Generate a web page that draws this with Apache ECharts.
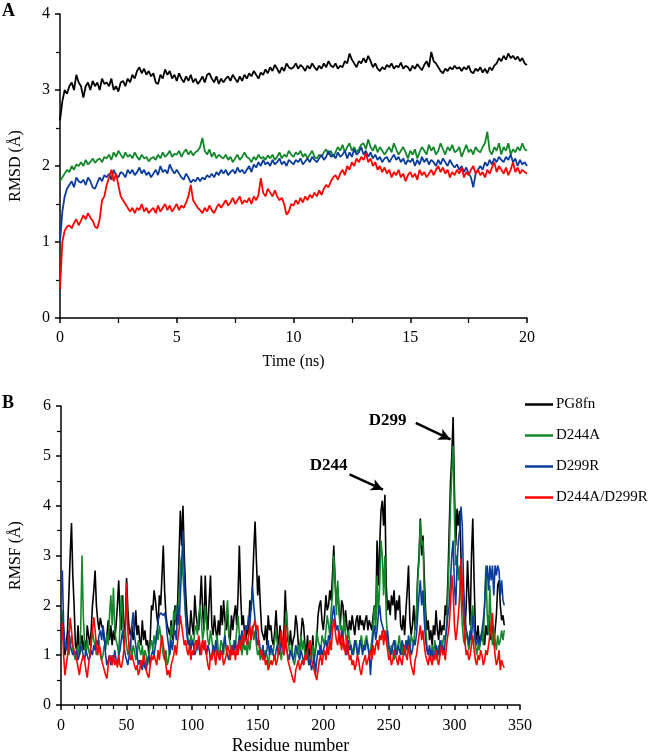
<!DOCTYPE html>
<html><head><meta charset="utf-8">
<script src="https://cdn.jsdelivr.net/npm/echarts@6/dist/echarts.min.js"></script>
<style>html,body{margin:0;padding:0;background:#fff}#c{width:650px;height:756px}</style>
</head><body><div id="c"></div>
<script>
// ---------- Panel A : RMSD vs time (ns), sampled every 0.1 ns ----------
const seriesNames = ['PG8fn','D244A','D299R','D244A/D299R'];
const seriesColors = ['#000000','#12882a','#0a3c9e','#ff0000'];

const rmsdPG8fn = [
2.6,2.85,3.0,2.95,3.05,3.1,3.0,3.2,3.1,3.05,
2.9,3.05,3.1,3.0,3.12,3.05,3.1,3.0,3.15,3.08,
3.1,3.05,3.15,3.0,3.05,2.98,3.1,3.12,3.05,3.15,
3.1,3.2,3.15,3.25,3.3,3.22,3.28,3.2,3.25,3.18,
3.22,3.1,3.08,3.2,3.15,3.27,3.2,3.25,3.15,3.2,
3.12,3.22,3.15,3.1,3.18,3.12,3.2,3.1,3.15,3.08,
3.12,3.18,3.1,3.2,3.22,3.15,3.1,3.18,3.08,3.15,
3.1,3.15,3.18,3.12,3.2,3.15,3.1,3.18,3.12,3.2,
3.15,3.22,3.18,3.25,3.2,3.15,3.23,3.2,3.27,3.22,
3.3,3.25,3.33,3.28,3.22,3.3,3.25,3.35,3.3,3.28,
3.3,3.35,3.28,3.33,3.3,3.25,3.32,3.28,3.35,3.3,
3.26,3.32,3.28,3.35,3.3,3.38,3.32,3.3,3.35,3.28,
3.32,3.3,3.38,3.35,3.48,3.4,3.35,3.3,3.38,3.35,
3.42,3.36,3.45,3.38,3.3,3.35,3.28,3.25,3.3,3.27,
3.33,3.3,3.35,3.28,3.32,3.3,3.36,3.28,3.32,3.3,
3.25,3.32,3.28,3.34,3.3,3.26,3.33,3.38,3.3,3.5,
3.38,3.35,3.3,3.25,3.22,3.28,3.25,3.3,3.27,3.32,
3.28,3.3,3.25,3.3,3.27,3.32,3.24,3.22,3.28,3.25,
3.3,3.23,3.28,3.22,3.3,3.26,3.32,3.35,3.42,3.38,
3.45,3.4,3.48,3.42,3.45,3.4,3.44,3.38,3.42,3.35,
3.33];
const rmsdD244A = [
1.8,1.85,1.9,1.95,1.92,2.0,1.95,2.02,2.0,2.05,
2.0,2.08,2.02,2.05,2.1,2.04,2.08,2.1,2.05,2.12,
2.1,2.15,2.08,2.18,2.12,2.2,2.15,2.1,2.18,2.12,
2.15,2.1,2.18,2.12,2.08,2.15,2.1,2.12,2.06,2.1,
2.12,2.08,2.15,2.1,2.18,2.12,2.15,2.2,2.12,2.16,
2.15,2.2,2.12,2.18,2.22,2.15,2.2,2.14,2.18,2.2,
2.25,2.37,2.2,2.15,2.22,2.12,2.18,2.1,2.15,2.12,
2.1,2.15,2.08,2.12,2.05,2.1,2.15,2.08,2.12,2.18,
2.12,2.1,2.05,2.12,2.08,2.15,2.1,2.12,2.08,2.14,
2.1,2.15,2.08,2.12,2.18,2.1,2.15,2.12,2.2,2.15,
2.12,2.18,2.15,2.2,2.12,2.16,2.1,2.15,2.2,2.12,
2.1,2.15,2.12,2.18,2.22,2.15,2.2,2.12,2.18,2.25,
2.2,2.28,2.18,2.25,2.3,2.2,2.25,2.18,2.22,2.28,
2.3,2.22,2.35,2.25,2.2,2.28,2.18,2.25,2.2,2.15,
2.2,2.25,2.18,2.3,2.22,2.15,2.2,2.25,2.18,2.1,
2.2,2.15,2.22,2.1,2.18,2.25,2.2,2.15,2.28,2.2,
2.25,2.15,2.2,2.3,2.22,2.15,2.25,2.2,2.28,2.18,
2.2,2.25,2.12,2.2,2.28,2.18,2.22,2.15,2.25,2.2,
2.18,2.25,2.3,2.45,2.2,2.15,2.25,2.2,2.3,2.15,
2.25,2.2,2.3,2.15,2.22,2.18,2.25,2.2,2.3,2.22,
2.2];
const rmsdD299R = [
1.0,1.4,1.6,1.7,1.75,1.8,1.72,1.85,1.8,1.78,
1.82,1.75,1.85,1.8,1.72,1.7,1.78,1.85,1.8,1.88,
1.85,1.9,1.82,1.95,1.88,1.85,1.92,1.9,1.85,1.95,
1.9,1.95,1.88,1.92,1.98,1.9,1.95,1.88,1.92,1.85,
1.9,1.95,1.88,2.0,1.92,1.95,1.9,2.02,1.95,1.9,
1.95,1.9,1.85,1.82,1.9,1.85,1.78,1.82,1.8,1.85,
1.8,1.85,1.82,1.88,1.85,1.9,1.85,1.92,1.88,1.95,
1.9,1.95,1.88,1.92,1.95,1.9,1.98,1.92,1.95,1.9,
1.95,2.0,1.92,2.02,1.98,2.05,2.0,2.08,2.02,2.05,
2.0,2.08,2.02,2.05,2.1,2.02,2.06,2.0,2.08,2.05,
2.02,2.08,2.05,2.1,2.02,2.06,2.1,2.05,2.12,2.08,
2.05,2.1,2.15,2.08,2.12,2.2,2.12,2.15,2.1,2.18,
2.12,2.15,2.2,2.1,2.18,2.12,2.22,2.15,2.18,2.25,
2.15,2.2,2.12,2.18,2.1,2.15,2.08,2.12,2.05,2.1,
2.12,2.05,2.1,2.15,2.08,2.12,2.05,2.1,2.02,2.08,
2.05,2.1,2.0,2.08,2.02,2.12,2.05,2.1,2.02,2.08,
2.05,2.0,2.08,2.02,2.1,2.05,2.0,2.08,2.02,1.98,
2.02,1.95,2.0,1.92,1.98,1.9,1.85,1.72,1.9,1.95,
2.0,1.95,2.05,2.0,2.08,2.02,2.1,2.05,2.12,2.08,
2.05,2.12,2.08,2.15,2.05,2.1,2.0,2.08,2.02,2.05,
2.0];
const rmsdDouble = [
0.38,1.0,1.15,1.2,1.22,1.18,1.25,1.3,1.22,1.28,
1.35,1.3,1.38,1.32,1.28,1.2,1.18,1.3,1.55,1.6,
1.75,1.85,1.95,1.8,1.9,1.75,1.6,1.55,1.5,1.45,
1.4,1.45,1.38,1.45,1.42,1.5,1.4,1.45,1.38,1.42,
1.45,1.38,1.48,1.4,1.45,1.5,1.42,1.48,1.4,1.45,
1.5,1.42,1.48,1.45,1.52,1.6,1.75,1.55,1.5,1.45,
1.42,1.38,1.45,1.4,1.48,1.42,1.38,1.45,1.5,1.45,
1.5,1.55,1.48,1.52,1.58,1.5,1.55,1.6,1.5,1.55,
1.52,1.58,1.5,1.6,1.55,1.62,1.84,1.65,1.6,1.7,
1.65,1.6,1.68,1.6,1.55,1.58,1.5,1.36,1.4,1.5,
1.48,1.55,1.5,1.58,1.52,1.6,1.55,1.62,1.58,1.65,
1.6,1.68,1.62,1.7,1.75,1.72,1.8,1.85,1.88,1.82,
1.9,1.95,1.88,2.0,1.95,2.05,2.0,2.1,2.05,2.12,
2.08,2.17,2.05,2.1,2.0,2.05,1.95,2.0,1.92,1.98,
1.9,1.95,1.85,1.92,1.88,1.95,1.85,1.9,1.8,1.88,
1.92,1.85,1.9,1.82,1.95,1.88,1.92,1.85,1.9,1.95,
1.88,1.95,2.0,1.92,1.98,1.9,1.95,1.85,1.92,1.88,
1.95,1.9,1.98,1.85,1.92,1.88,1.95,2.0,1.9,1.95,
1.88,1.92,1.85,1.95,1.9,1.98,2.05,1.92,2.0,1.95,
1.9,1.98,1.88,1.95,2.05,1.92,1.98,1.9,1.95,1.92,
1.9];

// ---------- Panel B : RMSF per residue (1..338) ----------
const rmsfPG8fn = [
1.8,1.3,1.0,1.2,1.5,2.2,3.0,3.65,2.6,2.0,
1.2,1.1,1.6,1.0,1.2,1.4,1.1,1.3,1.0,1.6,
1.4,1.2,1.5,2.0,2.3,2.7,2.0,1.7,1.5,1.75,
1.6,1.5,1.3,1.2,1.4,1.7,1.3,1.6,1.2,1.5,
1.3,1.6,2.0,2.5,1.8,1.5,2.2,1.4,1.6,2.55,
1.9,1.5,1.4,1.6,1.3,1.5,1.9,1.4,1.6,1.3,
1.2,1.7,1.3,1.5,1.2,1.3,1.0,1.3,2.0,1.9,
2.3,2.1,1.8,1.6,2.2,2.0,2.6,3.2,2.3,1.8,
1.6,1.5,1.4,1.7,1.3,1.5,2.0,1.6,2.1,3.0,
3.9,3.2,4.0,3.0,2.3,1.8,1.5,1.4,1.9,1.6,
1.4,2.2,1.8,1.6,1.5,2.0,2.6,1.9,1.5,2.6,
1.8,1.5,2.1,2.6,1.6,1.4,1.8,1.5,1.3,1.7,
1.4,2.0,1.6,2.1,1.7,1.5,1.9,1.4,1.3,1.8,
1.5,1.8,2.0,1.6,2.2,3.2,2.2,1.6,1.8,1.4,
1.3,1.6,1.4,2.1,1.9,2.4,3.1,3.68,2.9,2.2,
2.6,2.0,1.5,1.4,1.3,1.6,1.2,1.8,1.5,1.6,
1.3,1.2,1.5,1.9,1.4,1.2,1.6,1.3,1.1,1.5,
2.3,1.7,1.3,1.2,1.5,1.1,1.3,1.4,1.8,1.6,
1.2,1.1,1.4,1.75,1.6,1.2,1.0,1.4,0.9,1.2,
1.0,1.4,0.9,1.1,1.3,1.8,2.0,2.1,1.7,1.5,
1.8,2.2,1.9,2.0,2.3,2.1,2.6,3.2,2.5,2.0,
2.35,1.9,1.6,2.1,2.0,1.5,1.9,1.6,1.4,1.7,
1.5,1.8,1.6,1.4,1.7,1.8,1.5,1.8,1.6,1.7,
1.5,1.7,1.8,1.5,1.7,1.6,1.5,1.8,2.0,1.7,
3.3,2.4,3.2,3.9,4.1,3.6,4.22,2.4,1.9,2.1,
1.8,2.2,2.0,2.3,1.7,2.1,1.9,2.2,1.6,1.5,
1.8,1.4,1.9,2.3,2.8,1.7,1.4,1.6,2.0,1.5,
1.8,2.6,3.0,3.74,3.0,3.4,2.6,1.9,1.5,1.7,
1.3,1.5,1.2,1.6,1.4,1.9,1.5,1.3,1.7,1.4,
1.6,1.5,2.0,1.8,2.5,3.5,4.47,5.0,5.78,4.3,
3.2,3.94,3.6,3.9,3.0,2.2,1.8,1.5,2.0,2.9,
2.2,1.6,3.0,3.74,2.5,1.5,1.3,1.6,1.2,1.4,
1.3,1.5,1.2,1.6,1.4,1.8,1.5,1.3,1.6,1.2,
1.5,1.8,2.4,2.5,2.0,1.7,1.8,1.6];
const rmsfD244A = [
1.9,1.5,1.2,1.1,1.3,1.0,1.2,1.4,1.1,1.0,
0.9,1.1,1.2,1.0,1.5,3.0,1.8,1.2,1.0,1.3,
1.1,1.0,1.2,1.5,1.3,1.2,1.0,1.1,1.3,1.0,
0.9,1.0,1.2,1.1,1.4,1.2,1.8,2.2,1.6,2.35,
1.5,1.3,1.2,1.0,1.6,2.2,1.8,1.3,1.5,1.2,
1.0,1.1,1.3,0.9,1.2,1.1,0.9,1.0,1.3,1.1,
1.0,1.2,0.9,1.1,1.0,0.8,1.0,1.2,1.3,1.1,
1.4,1.2,1.5,1.3,1.6,1.4,1.2,1.0,0.9,1.1,
0.8,0.9,1.2,1.6,1.4,1.9,1.7,2.0,1.8,2.2,
2.8,3.0,2.6,2.2,1.8,1.5,1.3,1.2,1.4,1.3,
1.2,1.5,1.6,1.4,1.8,2.0,1.7,1.3,1.5,2.0,
1.6,1.3,1.2,1.5,1.3,1.1,1.0,1.2,1.4,1.1,
1.0,1.3,1.2,1.0,1.5,1.8,2.1,1.4,1.2,1.0,
1.1,1.3,1.2,1.5,1.8,1.4,1.2,1.0,1.3,1.1,
1.2,1.0,1.3,1.1,1.4,1.6,1.3,1.5,1.2,1.0,
1.1,0.9,1.0,1.2,0.9,1.1,1.0,0.8,1.0,1.2,
1.0,1.1,1.3,1.5,1.2,1.0,1.1,0.9,1.2,1.3,
1.6,1.9,1.4,1.1,1.0,1.2,0.9,0.8,1.0,1.1,
1.2,1.0,1.4,1.1,1.3,1.0,0.9,1.1,0.8,1.0,
0.9,1.2,1.0,1.1,1.5,1.3,1.2,1.0,1.4,1.3,
1.2,1.5,1.8,1.6,1.4,1.9,2.2,3.0,2.5,1.8,
2.5,1.9,1.5,1.6,1.3,1.8,1.4,1.2,1.5,1.3,
1.2,1.1,1.0,1.2,1.3,1.1,1.0,1.2,1.4,1.2,
1.1,1.3,1.4,1.2,1.0,1.1,1.3,1.6,2.0,1.5,
2.6,1.8,2.4,3.3,3.0,2.2,3.0,1.8,1.3,1.1,
1.0,1.2,1.1,0.9,1.3,1.0,1.2,1.4,1.1,1.0,
1.2,1.0,1.1,1.3,1.2,1.0,1.4,1.3,1.2,1.6,
1.8,2.5,2.9,3.7,3.2,3.3,2.2,1.6,1.2,1.0,
1.1,0.9,1.2,1.0,1.3,1.1,0.9,1.2,1.0,1.3,
1.2,1.4,1.3,1.6,2.2,3.0,4.0,4.7,5.2,3.8,
2.8,3.0,2.5,2.8,2.2,1.6,1.3,1.2,1.5,1.3,
1.1,1.3,1.8,2.0,1.5,1.2,1.0,1.2,1.1,1.3,
1.5,1.2,2.0,2.8,1.8,1.4,2.4,1.6,1.2,1.5,
1.3,1.1,1.4,1.2,1.3,1.5,1.3,1.5];
const rmsfD299R = [
2.7,1.6,1.2,1.1,1.3,1.5,1.2,1.1,1.0,1.1,
1.0,1.1,0.9,1.0,1.2,1.1,1.0,0.9,1.1,1.0,
0.9,0.95,1.1,1.0,1.2,1.1,1.3,1.2,1.4,1.5,
1.3,1.6,1.4,1.0,0.8,0.9,1.0,0.8,1.0,0.9,
1.1,0.9,0.8,1.0,1.1,1.3,1.5,1.2,1.0,0.9,
0.8,1.0,1.2,1.6,1.86,1.4,1.2,1.0,0.8,0.9,
0.8,0.7,0.9,0.75,0.7,0.9,1.0,0.8,1.0,1.1,
1.0,1.2,1.4,1.7,1.8,1.85,1.85,1.8,1.85,1.7,
1.4,1.2,1.0,1.3,1.1,1.4,1.5,1.3,2.0,1.6,
2.2,2.8,3.5,2.6,1.8,1.4,1.2,1.3,1.1,1.3,
1.2,1.0,1.1,1.3,1.2,1.0,1.1,1.3,1.2,1.1,
1.0,1.2,1.1,0.9,1.0,1.2,1.0,1.3,1.1,1.0,
0.9,1.1,1.0,1.2,1.4,1.1,1.0,0.9,1.1,1.0,
1.2,1.1,1.3,1.0,1.2,1.4,1.3,1.5,1.2,1.4,
1.6,1.5,1.8,1.6,2.0,2.38,2.0,1.7,1.4,1.2,
1.3,1.1,1.0,1.2,0.9,1.0,1.1,1.3,1.0,1.2,
1.1,1.0,0.9,1.1,1.2,1.0,1.1,1.3,1.2,1.0,
1.3,1.1,1.0,0.9,1.1,1.0,0.9,1.0,1.2,1.1,
1.0,0.9,1.1,1.0,0.8,1.0,0.9,1.1,0.8,0.9,
0.7,0.8,1.0,0.6,0.9,1.1,1.0,1.2,1.0,1.1,
1.2,1.3,1.1,1.4,1.3,1.5,1.8,2.0,1.7,1.5,
1.6,1.4,1.2,1.5,1.3,1.1,1.2,1.0,1.3,1.1,
1.2,1.0,1.1,1.3,1.2,1.0,1.1,1.3,1.2,1.0,
1.2,1.1,1.3,1.2,1.0,0.6,1.1,1.4,1.6,1.3,
1.5,1.8,2.0,1.7,1.6,1.5,1.4,1.3,1.5,1.2,
1.1,1.0,1.2,1.3,1.1,1.0,1.2,1.1,1.0,1.3,
1.2,1.0,1.3,1.1,1.4,1.2,1.0,1.1,1.3,1.2,
1.4,1.8,2.2,2.5,2.0,2.3,1.7,1.3,1.1,1.0,
1.2,1.0,1.1,0.9,1.0,1.2,1.1,1.0,1.3,1.1,
1.2,1.0,1.3,1.5,1.8,2.0,2.5,3.0,3.3,2.4,
2.0,2.8,3.3,3.5,3.98,3.6,2.4,1.8,1.5,1.4,
1.2,1.5,1.3,1.8,1.6,1.3,1.2,1.4,1.2,1.3,
1.5,1.7,2.0,2.6,2.8,2.3,2.8,2.5,2.8,2.2,
2.8,2.6,2.8,2.7,2.2,2.5,2.1,2.0];
const rmsfDouble = [
1.65,1.0,0.6,0.8,1.0,1.3,1.75,1.5,1.2,1.1,
1.0,0.9,0.75,0.6,0.8,0.9,1.0,0.9,0.7,0.55,
0.8,1.0,1.3,1.5,1.76,1.5,1.2,1.0,1.2,1.1,
0.9,0.8,0.7,0.6,0.53,0.8,1.0,0.9,0.8,1.0,
0.8,0.9,0.75,1.0,0.8,0.75,0.9,1.1,1.4,2.45,
1.5,1.1,0.9,1.0,0.9,0.8,0.7,0.8,0.6,0.7,
0.9,0.8,1.0,0.9,0.7,0.6,0.55,0.8,1.0,0.9,
1.0,0.9,0.8,1.1,0.9,1.2,1.4,1.2,1.0,0.8,
0.6,0.7,0.55,0.8,0.9,1.0,1.2,1.0,1.3,1.5,
1.8,1.6,1.4,1.2,1.3,1.1,1.0,1.2,0.9,1.1,
1.0,1.2,1.3,1.1,1.4,1.2,1.0,1.3,1.1,1.3,
1.0,0.8,0.7,1.0,0.9,1.1,1.0,0.8,1.1,1.0,
0.9,1.1,1.0,0.8,0.9,1.0,1.2,1.1,0.9,1.2,
1.0,1.1,0.9,1.2,1.0,1.3,1.1,1.4,1.2,1.5,
1.3,1.2,1.4,1.6,1.3,1.5,1.6,1.7,1.5,1.6,
1.2,1.0,1.1,0.9,1.0,0.8,0.9,0.7,0.8,0.9,
0.8,0.9,1.0,0.8,0.9,1.1,1.3,1.5,1.2,1.0,
1.6,1.2,0.9,0.8,0.7,0.6,0.5,0.45,0.7,0.8,
0.9,0.7,0.8,0.9,0.8,1.0,0.9,1.1,1.2,1.3,
0.9,0.8,0.7,0.6,0.5,0.7,0.9,1.0,0.8,1.0,
1.1,0.9,1.2,1.0,1.3,1.1,1.5,1.73,1.5,1.3,
1.2,1.5,1.3,1.1,1.4,1.2,1.0,1.4,1.1,0.9,
1.0,0.8,0.9,0.7,0.8,1.0,0.9,0.7,0.6,0.8,
0.9,1.0,0.8,0.9,1.0,1.1,0.9,1.2,1.0,1.2,
1.3,1.1,1.4,1.3,1.5,1.2,1.5,1.3,1.1,0.9,
1.0,0.8,0.9,1.1,1.0,0.9,0.8,1.0,0.9,0.8,
1.0,1.2,1.0,0.9,1.2,1.0,0.8,0.7,0.6,0.9,
1.0,1.2,1.4,1.6,1.3,1.5,1.2,1.0,0.9,0.8,
1.0,0.9,0.8,1.0,0.9,1.1,0.9,0.8,1.0,1.2,
1.0,1.1,0.9,1.2,1.4,1.6,2.0,2.6,2.3,1.6,
1.3,1.5,1.8,2.2,2.95,2.4,1.8,1.3,1.0,1.1,
0.9,1.0,1.2,1.4,1.1,0.9,0.8,1.0,0.9,1.1,
1.0,0.8,0.9,1.1,1.0,1.2,1.4,1.6,1.85,1.3,
1.0,0.8,0.9,1.1,0.7,0.9,0.8,0.75];

// annotation anchors (data coordinates: residue, RMSF)
const annotTexts = ['D244','D299'];
const annotTextPos = [[204,4.81],[249,5.70]];
const annotArrowFrom = [[220,4.63],[270.5,5.66]];
const annotArrowTo = [[245.5,4.32],[297,5.33]];

// ---------- build ----------
const timeNs = rmsdPG8fn.map((_, i) => i / 10);
const residues = rmsfPG8fn.map((_, i) => i + 1);
const rmsdSets = [rmsdPG8fn, rmsdD244A, rmsdD299R, rmsdDouble];
const rmsfSets = [rmsfPG8fn, rmsfD244A, rmsfD299R, rmsfDouble];
const serif = 'Liberation Serif';
const tickFont = {color: '#000', fontFamily: serif, fontSize: 16};

function axisCommon(extra) {
  return Object.assign({
    axisLine: {show: true, onZero: false, lineStyle: {color: '#000', width: 1.5}},
    axisTick: {show: true, inside: false, length: 5, lineStyle: {color: '#000', width: 1.5}},
    splitLine: {show: false},
    nameTextStyle: {color: '#000', fontFamily: serif, fontSize: 16},
    nameLocation: 'middle'
  }, extra);
}
const minor = (n, len) => ({show: true, splitNumber: n, length: len, lineStyle: {color: '#000', width: 1.2}});

const chart = echarts.init(document.getElementById('c'), null, {renderer: 'canvas'});
const series = [];
rmsdSets.forEach((arr, k) => {
  series.push({
    name: seriesNames[k], type: 'line', xAxisIndex: 0, yAxisIndex: 0,
    data: arr.map((v, i) => [timeNs[i], v]),
    showSymbol: false, symbol: 'none', lineStyle: {color: seriesColors[k], width: 1.8},
    itemStyle: {color: seriesColors[k]}, z: 2 + k, animation: false
  });
});
rmsfSets.forEach((arr, k) => {
  const s = {
    name: seriesNames[k], type: 'line', xAxisIndex: 1, yAxisIndex: 1,
    data: arr.map((v, i) => [residues[i], v]),
    showSymbol: false, symbol: 'none', lineStyle: {color: seriesColors[k], width: 1.6},
    itemStyle: {color: seriesColors[k]}, z: 2 + k, animation: false
  };
  if (k === 0) {
    s.markLine = {
      silent: true, symbol: ['none', 'arrow'], symbolSize: [9, 12], animation: false,
      lineStyle: {color: '#000', width: 2.5, type: 'solid'}, label: {show: false},
      data: annotArrowFrom.map((p, j) => [{coord: p}, {coord: annotArrowTo[j]}])
    };
    s.markPoint = {
      silent: true, symbol: 'circle', symbolSize: 1, animation: false,
      itemStyle: {color: 'rgba(0,0,0,0)'},
      label: {show: true, position: 'inside', formatter: '{b}', color: '#000',
              fontFamily: serif, fontWeight: 'bold', fontSize: 17},
      data: annotTexts.map((t, j) => ({name: t, coord: annotTextPos[j]}))
    };
  }
  series.push(s);
});

chart.setOption({
  animation: false,
  backgroundColor: '#fff',
  grid: [
    {left: 55, right: 123, top: 14, bottom: 438, containLabel: false},
    {left: 58, right: 130, top: 406, bottom: 47, containLabel: false}
  ],
  xAxis: [
    axisCommon({gridIndex: 0, type: 'value', min: 0, max: 20, interval: 5,
      minorTick: minor(2, 5), name: 'Time (ns)', nameGap: 36,
      axisLabel: Object.assign({margin: 12}, tickFont)}),
    axisCommon({gridIndex: 1, type: 'value', min: 0, max: 350, interval: 50,
      minorTick: minor(5, 4), name: 'Residue number', nameGap: 32,
      nameTextStyle: {color: '#000', fontFamily: serif, fontSize: 18},
      axisLabel: Object.assign({margin: 13}, tickFont)})
  ],
  yAxis: [
    axisCommon({gridIndex: 0, type: 'value', min: 0, max: 4, interval: 1,
      minorTick: minor(2, 4), name: 'RMSD (Å)', nameGap: 36,
      axisLabel: Object.assign({margin: 10}, tickFont)}),
    axisCommon({gridIndex: 1, type: 'value', min: 0, max: 6, interval: 1,
      minorTick: minor(2, 4), name: 'RMSF (Å)', nameGap: 37,
      axisLabel: Object.assign({margin: 10}, tickFont)})
  ],
  legend: {
    orient: 'vertical', left: 525, top: 397, padding: 0, itemGap: 16, itemWidth: 28, itemHeight: 2.5,
    icon: 'rect', data: seriesNames,
    textStyle: {color: '#000', fontFamily: serif, fontSize: 15, padding: [0, 0, 0, -2]}
  },
  graphic: [
    {type: 'text', left: 2, top: 2, style: {text: 'A', fontFamily: serif, fontWeight: 'bold', fontSize: 18, fill: '#000'}},
    {type: 'text', left: 2, top: 394, style: {text: 'B', fontFamily: serif, fontWeight: 'bold', fontSize: 18, fill: '#000'}}
  ],
  series: series
});
</script>
</body></html>
